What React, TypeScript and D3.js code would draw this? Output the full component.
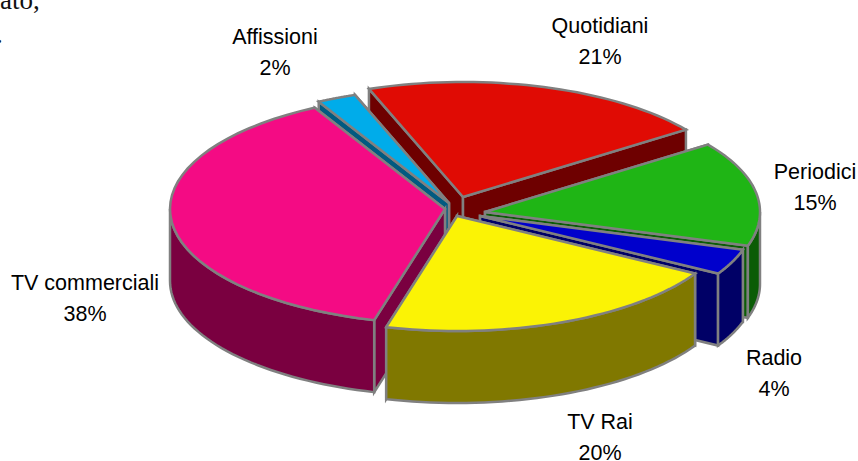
import React from "react";
import * as d3 from "d3";

// Shares; the printed labels are rounded differently
const categories = ["Quotidiani", "Periodici", "Radio", "TV Rai", "TV commerciali", "Affissioni"];
const shares = [20.6, 14.7, 3.6, 20.8, 38.0, 2.3];
const percentLabels = ["21%", "15%", "4%", "20%", "38%", "2%"];

const topColors = ["#e00b04", "#1fb515", "#0000cc", "#fbf305", "#f40b84", "#00acea"];
const sideColors = ["#6e0000", "#0b5c06", "#000066", "#807800", "#7a0040", "#005a80"];

// Explode offset of each slice from the pie centre
const explodeX = [5, 27, 22, -1, -13, -9];
const explodeY = [-10, 5, 9, 9, 2, -4];
// Label centre x and baseline of the first line
const labelX = [600, 815, 774, 600, 85, 275];
const labelY = [33, 179, 365, 429, 290, 44];

// Back to front
const drawOrder = [0, 5, 1, 2, 4, 3];

const cx = 458;
const cy = 207;
const rx = 275;
const ry = 115;
const depth = 72;
const stroke = "#808080";

const toRad = (deg: number) => (deg * Math.PI) / 180;
const arcs = d3
  .pie<number>()
  .sort(null)
  .startAngle(toRad(-20))
  .endAngle(toRad(340))(shares);

const line = d3.line<[number, number]>();

export default function App() {
  // angle measured clockwise from the top, as d3.pie gives it
  const rim = (i: number, a: number, z = 0): [number, number] => [
    cx + explodeX[i] + rx * Math.sin(a),
    cy + explodeY[i] - ry * Math.cos(a) + z,
  ];
  const apex = (i: number, z = 0): [number, number] => [cx + explodeX[i], cy + explodeY[i] + z];
  const sweep = (i: number, a0: number, a1: number, z = 0) =>
    d3.range(0, 41).map((k) => rim(i, a0 + ((a1 - a0) * k) / 40, z));

  return (
    <svg
      width={858}
      height={461}
      style={{ position: "absolute", left: 0, top: 0, background: "#fff" }}
    >
      <text x={0} y={9} fontFamily="Liberation Serif" fontSize={27} fill="#111">
        ato,
      </text>
      <text x={-4} y={43} fontFamily="Liberation Serif" fontSize={27} fill="#111">
        .
      </text>

      {drawOrder.map((i) => {
        const { startAngle: a0, endAngle: a1 } = arcs[i];
        // Outer wall only where the rim faces the viewer
        const w0 = Math.max(a0, Math.PI / 2);
        const w1 = Math.min(a1, (3 * Math.PI) / 2);
        const wall =
          w1 > w0
            ? line([...sweep(i, w0, w1), ...sweep(i, w1, w0, depth)]) + "Z"
            : null;
        // Radial walls: the one whose rim end sits further back goes first
        const sides = [a0, a1]
          .sort((p, q) => rim(i, p)[1] - rim(i, q)[1])
          .map((a) => line([apex(i), rim(i, a), rim(i, a, depth), apex(i, depth)]) + "Z");
        const top = line([apex(i), ...sweep(i, a0, a1)]) + "Z";
        const common = { stroke, strokeWidth: 2.5, strokeLinejoin: "miter" as const };
        return (
          <g key={categories[i]}>
            {sides.map((d, k) => (
              <path key={k} d={d} fill={sideColors[i]} {...common} />
            ))}
            {wall && <path d={wall} fill={sideColors[i]} {...common} />}
            <path d={top} fill={topColors[i]} {...common} />
          </g>
        );
      })}

      {categories.map((name, i) => (
        <text
          key={name}
          textAnchor="middle"
          fontFamily="Liberation Sans"
          fontSize={21.5}
          fill="#000"
        >
          <tspan x={labelX[i]} y={labelY[i]}>
            {name}
          </tspan>
          <tspan x={labelX[i]} y={labelY[i] + 31}>
            {percentLabels[i]}
          </tspan>
        </text>
      ))}
    </svg>
  );
}
